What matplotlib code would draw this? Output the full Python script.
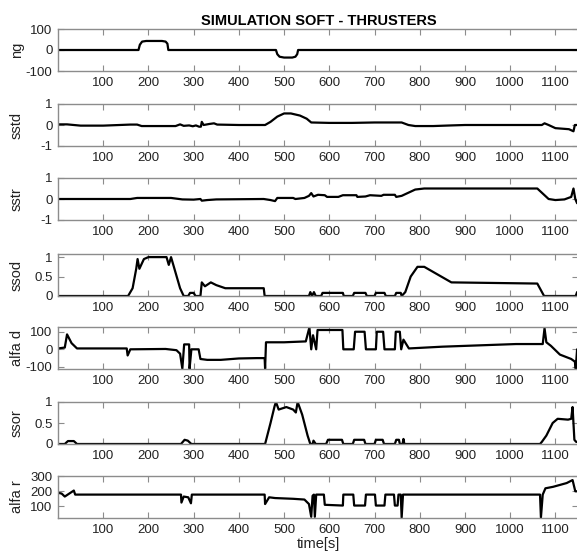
#!/usr/bin/env python3
"""Simulation soft - thrusters, seven stacked time traces."""

import matplotlib
matplotlib.use('Agg')
import matplotlib.pyplot as plt

plt.rcParams['font.family'] = ['Liberation Sans', 'DejaVu Sans']

# ng
ng_t = [0, 178, 181, 186, 195, 230, 238, 242, 244, 482, 485, 490, 500,
        518, 525, 529, 531, 1150]
ng_v = [0, 0, 25, 40, 43, 43, 40, 30, 0, 0, -20, -32, -36, -36, -32,
        -20, 0, 0]

# sstd
sstd_t = [0, 20, 50, 100, 160, 175, 185, 260, 270, 278, 290, 298, 305,
          312, 316, 318, 322, 335, 345, 352, 400, 458, 470, 485, 500,
          515, 535, 550, 560, 600, 650, 700, 760, 775, 790, 830, 870,
          900, 1000, 1070, 1076, 1085, 1100, 1130, 1140, 1143, 1150]
sstd_v = [0.03, 0.03, -0.03, -0.03, 0.02, 0.02, -0.05, -0.05, 0.03,
          -0.04, -0.02, -0.06, -0.02, -0.08, -0.08, 0.15, 0.0, 0.05, 0.08,
          0.02, 0.0, 0.0, 0.15, 0.4, 0.55, 0.55, 0.45, 0.3, 0.12, 0.1, 0.1,
          0.12, 0.12, 0.0, -0.05, -0.05, -0.02, 0.0, 0.0, 0.0, 0.08, 0.0,
          -0.15, -0.2, -0.3, 0.0, 0.0]

# sstr
sstr_t = [0, 160, 175, 250, 275, 300, 315, 318, 330, 350, 455, 470, 480,
          485, 520, 525, 545, 555, 560, 565, 575, 590, 595, 620, 630, 660,
          662, 680, 690, 715, 720, 745, 748, 760, 770, 790, 810, 1060,
          1070, 1085, 1100, 1120, 1135, 1140, 1144, 1148, 1150]
sstr_v = [0.0, 0.0, 0.05, 0.05, -0.02, -0.03, 0.0, -0.08, -0.05, -0.02,
          0.0, -0.05, -0.1, 0.05, 0.05, 0.0, 0.05, 0.15, 0.28, 0.12, 0.2,
          0.18, 0.1, 0.1, 0.18, 0.18, 0.1, 0.12, 0.18, 0.15, 0.2, 0.2, 0.1,
          0.15, 0.25, 0.45, 0.5, 0.5, 0.3, 0.0, -0.05, -0.02, 0.1, 0.5,
          0.0, -0.2, -0.2]

# ssod
ssod_t = [0, 155, 165, 173, 176, 180, 190, 200, 240, 245, 250, 260, 270,
          278, 288, 292, 300, 304, 315, 318, 325, 338, 350, 370, 455, 457,
          555, 558, 562, 566, 570, 582, 585, 630, 632, 652, 655, 680, 683,
          700, 703, 722, 725, 745, 748, 758, 760, 768, 780, 795, 810, 840,
          870, 1060, 1075, 1145, 1148, 1150]
ssod_v = [0, 0, 0.2, 0.7, 0.95, 0.7, 0.95, 1.0, 1.0, 0.8, 1.0, 0.6, 0.2,
          0.0, 0.0, 0.08, 0.08, 0.0, 0.0, 0.35, 0.25, 0.35, 0.28, 0.2, 0.2,
          0.0, 0.0, 0.1, 0.0, 0.1, 0.0, 0.0, 0.08, 0.08, 0.0, 0.0, 0.08,
          0.08, 0.0, 0.0, 0.08, 0.08, 0.0, 0.0, 0.08, 0.08, 0.0, 0.1, 0.5,
          0.75, 0.75, 0.55, 0.35, 0.32, 0.0, 0.0, 0.1, 0.05]

# alfa d
alfad_t = [0, 15, 20, 30, 42, 152, 154, 160, 238, 262, 270, 275, 279, 290,
           291, 295, 311, 315, 330, 360, 400, 440, 457, 458, 460, 500, 548,
           556, 560, 564, 571, 574, 629, 631, 654, 657, 678, 681, 703, 705,
           719, 722, 745, 747, 756, 759, 764, 776, 850, 1013, 1072, 1076,
           1080, 1090, 1110, 1135, 1143, 1145, 1148, 1150]
alfad_v = [5, 10, 85, 35, 5, 5, -35, 0, 2, -5, -25, -110, 28, 28, -110, 0,
           0, -55, -60, -60, -52, -50, -50, -110, 40, 40, 45, 125, 0, 80, 0,
           110, 110, 0, 0, 100, 100, 0, 0, 100, 100, 0, 0, 100, 100, 0, 55,
           5, 15, 30, 30, 120, 40, 20, -30, -55, -70, -110, 0, 0]

# ssor
ssor_t = [0, 15, 22, 35, 42, 272, 280, 287, 295, 458, 470, 479, 482, 488,
          505, 520, 526, 530, 540, 552, 558, 563, 565, 570, 593, 597, 628,
          631, 652, 655, 677, 680, 700, 703, 718, 721, 745, 748, 754, 756,
          762, 764, 766, 1066, 1070, 1080, 1094, 1105, 1128, 1135, 1138,
          1142, 1146, 1150]
ssor_v = [0, 0, 0.07, 0.07, 0, 0, 0.1, 0.08, 0, 0, 0.5, 0.9, 1.0, 0.82,
          0.88, 0.82, 0.75, 1.0, 0.7, 0.2, 0.0, 0.0, 0.08, 0.0, 0, 0.1, 0.1,
          0, 0, 0.1, 0.1, 0, 0, 0.1, 0.1, 0, 0, 0.1, 0.1, 0, 0, 0.12, 0, 0,
          0.05, 0.2, 0.5, 0.6, 0.58, 0.6, 0.88, 0.1, 0.05, 0.05]

# alfa r
alfar_t = [0, 8, 15, 25, 35, 38, 272, 273, 278, 288, 294, 296, 457, 458,
           467, 480, 520, 545, 555, 560, 563, 566, 568, 571, 588, 590, 630,
           631, 653, 655, 679, 681, 701, 703, 722, 724, 743, 745, 751, 753,
           758, 760, 763, 1066, 1068, 1072, 1078, 1095, 1125, 1138, 1144,
           1150]
alfar_v = [190, 185, 165, 185, 205, 178, 178, 125, 165, 160, 120, 178, 178,
           115, 160, 155, 150, 145, 115, 30, 170, 178, 30, 178, 178, 110,
           105, 178, 178, 105, 105, 178, 178, 105, 105, 178, 178, 105, 105,
           178, 178, 25, 178, 178, 25, 178, 220, 230, 255, 275, 200, 200]

series = [
    ('ng', ng_t, ng_v, (-100, 100), [-100, 0, 100], ['-100', '0', '100']),
    ('sstd', sstd_t, sstd_v, (-1, 1), [-1, 0, 1], ['-1', '0', '1']),
    ('sstr', sstr_t, sstr_v, (-1, 1), [-1, 0, 1], ['-1', '0', '1']),
    ('ssod', ssod_t, ssod_v, (0, 1.08), [0, 0.5, 1], ['0', '0.5', '1']),
    ('alfa d', alfad_t, alfad_v, (-112, 127), [-100, 0, 100],
     ['-100', '0', '100']),
    ('ssor', ssor_t, ssor_v, (0, 1.0), [0, 0.5, 1], ['0', '0.5', '1']),
    ('alfa r', alfar_t, alfar_v, (22, 302), [100, 200, 300],
     ['100', '200', '300']),
]

xticks = list(range(100, 1200, 100))

W, H = 577, 560
fig = plt.figure(figsize=(W / 100, H / 100), dpi=100)
tops = [29, 104, 178, 254, 327, 402, 476]
hgt = 42
left = 58
grey = '#8c8c8c'

for i, (name, t, v, ylim, yt, ytl) in enumerate(series):
    ax = fig.add_axes([left / W, 1 - (tops[i] + hgt) / H,
                       (W - left + 1) / W, hgt / H])
    ax.plot(t, v, color='black', lw=1.6)
    ax.set_xlim(0, 1150)
    ax.set_ylim(*ylim)
    ax.set_xticks(xticks)
    ax.set_xticklabels([str(x) for x in xticks])
    ax.set_yticks(yt)
    ax.set_yticklabels(ytl)
    ax.tick_params(direction='in', length=4, width=0.8, color=grey,
                   labelsize=9.5, labelcolor='#222222', pad=4,
                   top=True, right=True)
    for sp in ax.spines.values():
        sp.set_color(grey)
        sp.set_linewidth(1.0)
    ax.set_ylabel(name, fontsize=10.5, color='#222222')
    ax.yaxis.set_label_coords(-0.066, 0.5)
    if i == 0:
        ax.set_title('SIMULATION SOFT - THRUSTERS', fontsize=10.5,
                     fontweight='bold', pad=3, x=(318 - left) / (W - left))
    if i == len(series) - 1:
        ax.set_xlabel('time[s]', fontsize=10.5, color='#222222', labelpad=1)

fig.savefig('out.png', dpi=100)
